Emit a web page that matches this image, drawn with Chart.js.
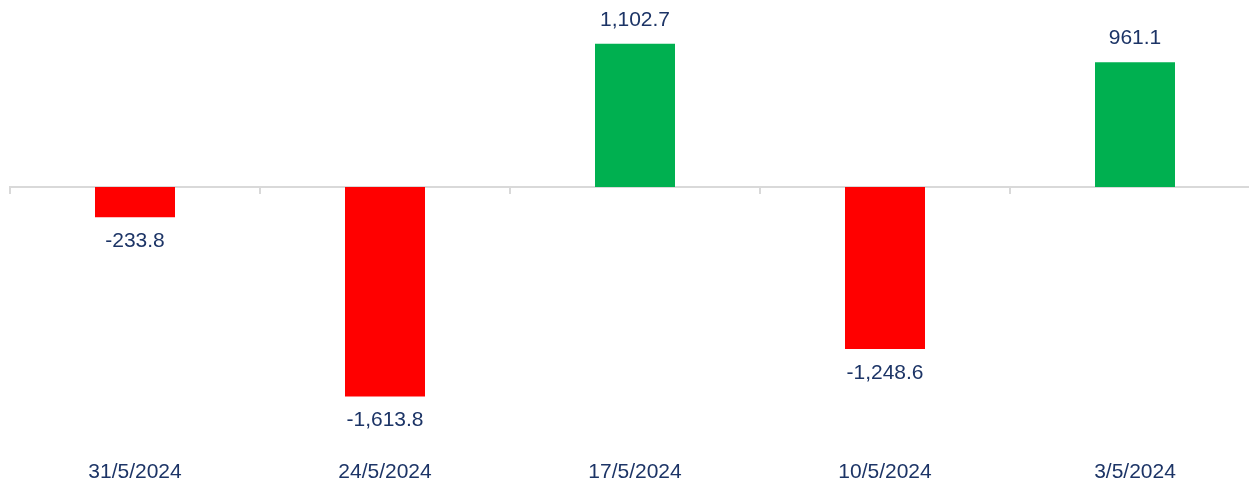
<!DOCTYPE html>
<html>
<head>
<meta charset="utf-8">
<script src="https://cdn.jsdelivr.net/npm/chart.js@4.4.1/dist/chart.umd.min.js"></script>
<style>
    html, body { margin: 0; padding: 0; background: #ffffff; overflow: hidden; }
    #wrap { position: relative; width: 1260px; height: 482px; }
</style>
</head>
<body>
<div id="wrap"><canvas id="flowChart"></canvas></div>
<script>
// --- DATA ---
const weeks = ['31/5/2024', '24/5/2024', '17/5/2024', '10/5/2024', '3/5/2024'];
const netFlows = [-233.8, -1613.8, 1102.7, -1248.6, 961.1];

const GREEN = '#00b050';
const RED = '#ff0000';
const TEXT = '#1c3466';
const AXIS = '#d9d9d9';
const FONT = '"Liberation Sans", Arial, sans-serif';

Chart.defaults.font.family = FONT;
Chart.defaults.font.size = 21;
Chart.defaults.color = TEXT;

// value labels above / below each bar
const valueLabels = {
    id: 'valueLabels',
    afterDatasetsDraw(chart) {
        const ctx = chart.ctx;
        const meta = chart.getDatasetMeta(0);
        ctx.save();
        ctx.font = '21px ' + FONT;
        ctx.fillStyle = TEXT;
        ctx.textAlign = 'center';
        ctx.textBaseline = 'middle';
        meta.data.forEach((bar, i) => {
            const v = netFlows[i];
            const txt = v.toLocaleString('en-US', { minimumFractionDigits: 1, maximumFractionDigits: 1 });
            const y = v >= 0 ? bar.y - 24 : bar.y + 24;
            ctx.fillText(txt, bar.x, y);
        });
        ctx.restore();
    }
};

document.addEventListener('DOMContentLoaded', function () {
    const ctx = document.getElementById('flowChart').getContext('2d');
    new Chart(ctx, {
        type: 'bar',
        data: {
            labels: weeks,
            datasets: [{
                data: netFlows,
                backgroundColor: netFlows.map(v => v >= 0 ? GREEN : RED),
                borderWidth: 0,
                barPercentage: 1,
                categoryPercentage: 0.32
            }]
        },
        options: {
            responsive: true,
            maintainAspectRatio: false,
            animation: false,
            layout: { padding: { top: 5, bottom: 0, left: 10, right: 0 } },
            plugins: { legend: { display: false }, tooltip: { enabled: false } },
            scales: {
                x: {
                    position: 'bottom',
                    grid: { display: false, drawTicks: false },
                    border: { display: false },
                    ticks: { padding: 8, color: TEXT, maxRotation: 0 },
                    afterFit: (s) => { s.height = 30; }
                },
                x0: {
                    type: 'category',
                    position: { y: 0 },
                    offset: true,
                    grid: { display: true, offset: true, drawOnChartArea: false, drawTicks: true, tickLength: 6, color: AXIS, lineWidth: 2 },
                    border: { display: true, color: AXIS, width: 2 },
                    ticks: { display: false },
                    afterFit: (s) => { s.height = 0; }
                },
                y: {
                    display: false,
                    min: -2042,
                    max: 1402
                }
            }
        },
        plugins: [valueLabels]
    });
});
</script>
</body>
</html>
